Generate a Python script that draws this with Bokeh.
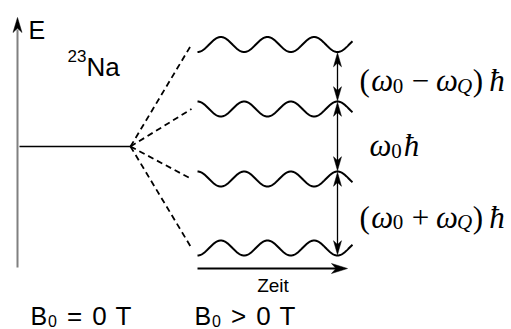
import numpy as np
from bokeh.plotting import figure
from bokeh.models import Range1d
from bokeh.core.properties import value
from bokeh.embed import file_html
from bokeh.resources import INLINE

# ---------------- data (diagram coordinates, 1 unit = 1 px) ----------------
energy_axis_x = 17
energy_axis_y = [62, 312]            # bottom, arrow tip
unsplit_x = [19, 130]                # B0 = 0 T level
unsplit_level = 183
split_levels = [285, 220.5, 150.5, 81.5]   # B0 > 0 T levels (top -> bottom)
split_phase = [-1, 1, 1, -1]         # -1: trough at marker, +1: crest at marker
wave_x = [197, 352]
wave_marker_x = 337
wave_period = 140 / 3
wave_amp = 7.5
dash_end_x = 191
time_axis_x = [197, 347]
time_axis_y = 61

gap_baselines = [248.7, 183.7, 112.3]     # (w0-wQ)hbar, w0 hbar, (w0+wQ)hbar
field_x = [30, 194]                        # "B0 = 0 T", "B0 > 0 T"
field_relation = ["=", ">"]

# ---------------- figure ----------------
p = figure(width=511, height=329, x_range=Range1d(0, 511), y_range=Range1d(0, 329),
           x_axis_type=None, y_axis_type=None, output_backend="svg",
           toolbar_location=None, min_border=0)
p.outline_line_color = None
p.background_fill_color = "white"
p.border_fill_color = "white"


def head(tip_x, tip_y, dx, dy, L, W):
    n = np.hypot(dx, dy)
    ux, uy = dx / n, dy / n
    px, py = -uy, ux
    bx, by = tip_x - L * ux, tip_y - L * uy
    nx, ny = tip_x - 0.72 * L * ux, tip_y - 0.72 * L * uy
    return ([tip_x, bx + W / 2 * px, nx, bx - W / 2 * px],
            [tip_y, by + W / 2 * py, ny, by - W / 2 * py])


heads_x, heads_y = [], []

# energy axis
p.line([energy_axis_x] * 2, [energy_axis_y[0], energy_axis_y[1] - 12],
       line_color="#808080", line_width=2)
hx, hy = head(energy_axis_x, energy_axis_y[1], 0, 1, 15, 9)
heads_x.append(hx); heads_y.append(hy)

# unsplit level
p.line(unsplit_x, [unsplit_level] * 2, line_color="black", line_width=1.4)

# dashed connections
p.multi_line([[unsplit_x[1], dash_end_x] for _ in split_levels],
             [[unsplit_level, lv] for lv in split_levels],
             line_color="black", line_width=1.8, line_dash="6 4")

# wavy split levels
xs = np.linspace(wave_x[0], wave_x[1], 300)
for lv, ph in zip(split_levels, split_phase):
    ys = lv + ph * wave_amp * np.cos(2 * np.pi * (xs - wave_marker_x) / wave_period)
    p.line(xs, ys, line_color="black", line_width=2)

# double arrows between levels
ends = [lv + ph * wave_amp for lv, ph in zip(split_levels, split_phase)]
for top, bot in zip(ends[:-1], ends[1:]):
    top_t, bot_t = top - 0.8, bot + 0.8
    p.line([wave_marker_x] * 2, [bot_t + 6, top_t - 6], line_color="black", line_width=1.3)
    hx, hy = head(wave_marker_x, top_t, 0, 1, 14, 8)
    heads_x.append(hx); heads_y.append(hy)
    hx, hy = head(wave_marker_x, bot_t, 0, -1, 14, 8)
    heads_x.append(hx); heads_y.append(hy)

# time axis
p.line([time_axis_x[0], time_axis_x[1] - 10], [time_axis_y] * 2, line_color="black", line_width=2)
hx, hy = head(time_axis_x[1], time_axis_y, 1, 0, 16, 10)
heads_x.append(hx); heads_y.append(hy)

p.patches(heads_x, heads_y, fill_color="black", line_color="black", line_width=0.5)

# ---------------- texts ----------------
sans = value("Liberation Sans")
serif = value("Liberation Serif")

p.text([28], [300], text=["E"], text_font=sans, text_font_size="25px",
       text_baseline="alphabetic", text_color="black")
p.text([67], [274], text=["23"], text_font=sans, text_font_size="17px",
       text_baseline="alphabetic", text_color="black")
p.text([86], [263], text=["Na"], text_font=sans, text_font_size="26px",
       text_baseline="alphabetic", text_color="black")
p.text([272.5], [44], text=["Zeit"], text_font=sans, text_font_size="19px",
       text_align="center", text_baseline="alphabetic", text_color="black")

# field labels, piece by piece
fb = 14
p.text(field_x, [fb] * 2, text=["B"] * 2, text_font=sans, text_font_size="25px",
       text_baseline="alphabetic", text_color="black")
p.text([x + 17.5 for x in field_x], [fb - 5] * 2, text=["0"] * 2, text_font=sans,
       text_font_size="16px", text_baseline="alphabetic", text_color="black")
p.text([x + 44 for x in field_x], [fb] * 2, text=field_relation, text_font=sans,
       text_font_size="26px", text_align="center", text_baseline="alphabetic",
       text_color="black")
p.text([x + 69 for x in field_x] + [x + 93 for x in field_x], [fb] * 4,
       text=["0", "0", "T", "T"], text_font=sans, text_font_size="26px",
       text_align="center", text_baseline="alphabetic", text_color="black")

# math labels: pieces (text, center x, kind)
line1 = [("(", 364.2, "n"), ("ω", 381.7, "i"), ("0", 397.5, "sn"), ("−", 420, "n"),
         ("ω", 446.5, "i"), ("Q", 464, "si"), (")", 477.5, "n"), ("ħ", 496.5, "i")]
line2 = [("ω", 380, "i"), ("0", 396, "sn"), ("ħ", 411, "i")]
line3 = [(t if t != "−" else "+", x, k) for t, x, k in line1]

for base, pieces in zip(gap_baselines, [line1, line2, line3]):
    for kind, size, style, dy in [("n", "31px", "normal", 0), ("i", "31px", "italic", 0),
                                  ("sn", "21px", "normal", -5), ("si", "21px", "italic", -5)]:
        sel = [(t, x) for t, x, k in pieces if k == kind]
        if not sel:
            continue
        p.text([x for _, x in sel], [base + dy] * len(sel), text=[t for t, _ in sel],
               text_font=serif, text_font_size=size, text_font_style=style,
               text_align="center", text_baseline="alphabetic", text_color="black")

open("out.html", "w").write(file_html(p, INLINE))
